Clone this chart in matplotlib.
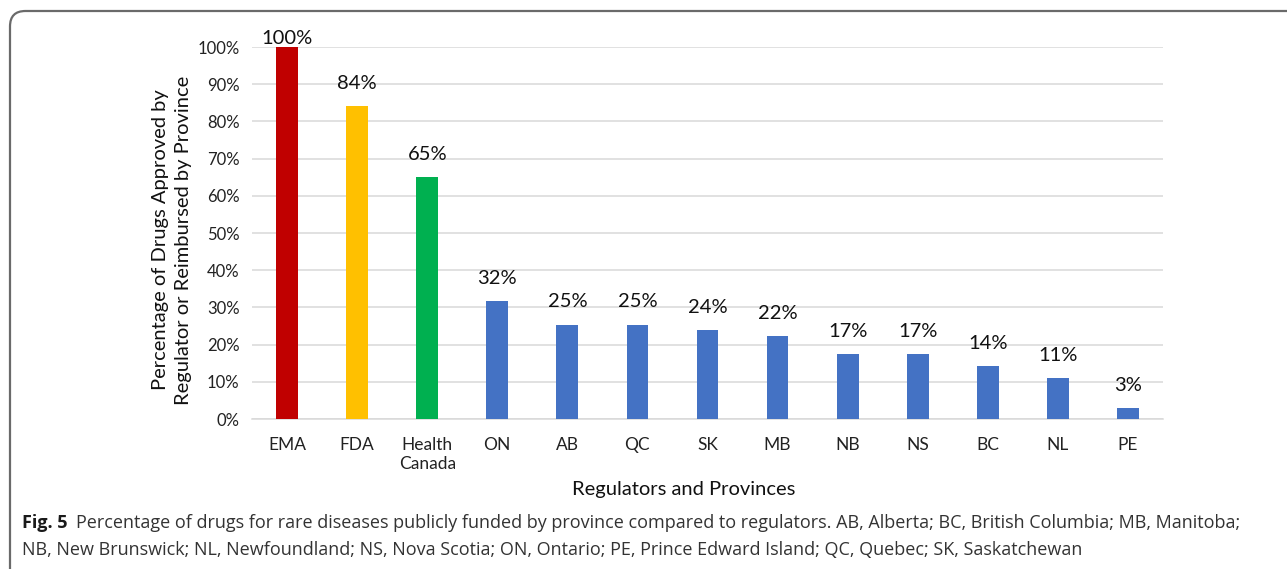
import matplotlib
matplotlib.use("Agg")
import matplotlib.pyplot as plt
from matplotlib.patches import FancyBboxPatch
from matplotlib.ticker import PercentFormatter

categories = ["EMA", "FDA", "Health\nCanada", "ON", "AB", "QC", "SK", "MB", "NB", "NS", "BC", "NL", "PE"]
values = [100, 84.2, 65.1, 31.8, 25.4, 25.4, 23.8, 22.2, 17.4, 17.4, 14.2, 11.0, 3.0]
colors = ["#C00000", "#FFC000", "#00B050"] + ["#4472C4"] * 10
yticks = list(range(0, 101, 10))

plt.rcParams["font.family"] = ["Lato", "DejaVu Sans"]

W, H = 1287, 569
fig = plt.figure(figsize=(W / 100, H / 100), dpi=100)
fig.patch.set_facecolor("white")

ax = fig.add_axes([252 / W, 1 - 419 / H, (1163 - 252) / W, (419 - 47) / H])
x = list(range(len(categories)))
ax.bar(x, values, width=0.31, color=colors, zorder=3)
ax.set_xlim(-0.5, len(categories) - 0.5)
ax.set_ylim(0, 100)
ax.set_yticks(yticks)
ax.yaxis.set_major_formatter(PercentFormatter(decimals=0))
ax.set_xticks(x)
ax.set_xticklabels(categories, fontsize=12.5, color="#222222", linespacing=1.2)
ax.tick_params(axis="y", labelsize=12, colors="#222222", length=0, pad=9)
ax.tick_params(axis="x", length=0, pad=13)
ax.grid(axis="y", color="#d9d9d9", linewidth=1.1, zorder=0)
for s in ["left", "right", "top"]:
    ax.spines[s].set_visible(False)
ax.spines["bottom"].set_color("#d9d9d9")
ax.spines["bottom"].set_linewidth(1.1)

for xi, v in zip(x, values):
    ax.text(xi, min(v + 4.6, 100.8), f"{v:.0f}%", ha="center", va="baseline",
            fontsize=14.5, color="#111111", zorder=4, clip_on=False)

fig.text(172 / W, 1 - 240 / H,
         "Percentage of Drugs Approved by\nRegulator or Reimbursed by Province",
         rotation=90, ha="center", va="center", fontsize=14.5, color="#111111",
         linespacing=1.45, multialignment="center")
fig.text(684 / W, 1 - 489 / H, "Regulators and Provinces", ha="center", va="center",
         fontsize=14.5, color="#111111")

# caption
capfont = ["Open Sans", "DejaVu Sans"]
cap1 = "Percentage of drugs for rare diseases publicly funded by province compared to regulators. AB, Alberta; BC, British Columbia; MB, Manitoba;"
cap2 = "NB, New Brunswick; NL, Newfoundland; NS, Nova Scotia; ON, Ontario; PE, Prince Edward Island; QC, Quebec; SK, Saskatchewan"
t = fig.text(22 / W, 1 - 523 / H, "Fig. 5", ha="left", va="center", fontsize=13,
             fontweight="bold", family=capfont, color="#1a1a1a")
fig.canvas.draw()
bb = t.get_window_extent()
fig.text((bb.x1 + 8) / W, 1 - 523 / H, cap1, ha="left", va="center", fontsize=13,
         family=capfont, color="#333333")
fig.text(22 / W, 1 - 550 / H, cap2, ha="left", va="center", fontsize=13,
         family=capfont, color="#333333")

# frame
frame = FancyBboxPatch((10 / W, -20 / H), (W + 40) / W, (H - 11 + 20) / H,
                       boxstyle="round,pad=0,rounding_size=0.012",
                       transform=fig.transFigure, fill=False,
                       edgecolor="#6a6a6a", linewidth=1.6, mutation_aspect=W / H)
fig.patches.append(frame)

fig.savefig("out.png", dpi=100)
